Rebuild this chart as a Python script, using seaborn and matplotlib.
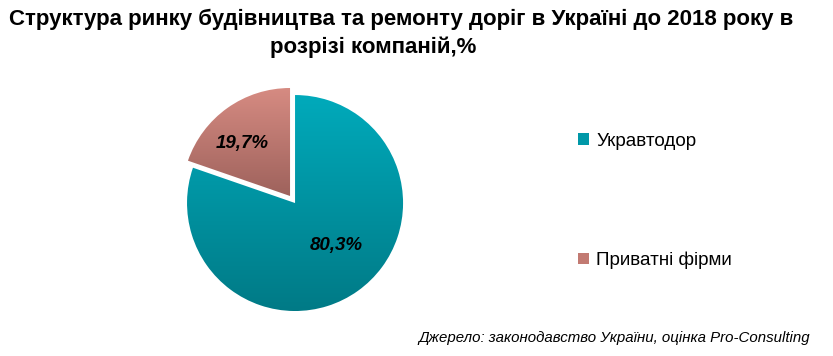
"""
Market structure pie: road construction and repair in Ukraine, by company
"""
import numpy as np
import matplotlib.pyplot as plt
import seaborn as sns
from matplotlib.colors import LinearSegmentedColormap
from matplotlib.patches import Patch

sns.set_theme(style="white")
plt.rcParams['font.family'] = ['Liberation Sans', 'DejaVu Sans']
plt.rcParams['text.color'] = 'black'

# Data
companies = ['Укравтодор', 'Приватні фірми']
shares = [80.3, 19.7]
title_lines = ['Структура ринку будівництва та ремонту доріг в Україні до 2018 року в',
               'розрізі компаній,%']
source = 'Джерело: законодавство України, оцінка Pro-Consulting'

# Gradient colours (top, bottom) for each slice
grad_colors = [('#00AABB', '#007A86'), ('#D68B82', '#9E625C')]
flat_colors = ['#0098A8', '#C27A72']

fig = plt.figure(figsize=(8.33, 3.56), dpi=100)
ax = fig.add_axes([0.1986, 0.0657, 0.3112, 0.728])

wedges, texts, autotexts = ax.pie(
    shares, colors=flat_colors, startangle=90, counterclock=False,
    explode=[0, 0.08], radius=1,
    autopct=lambda p: f'{p:.1f}%'.replace('.', ','),
    pctdistance=0.6,
    textprops=dict(fontsize=13.5, fontweight='bold', fontstyle='italic', color='black'),
    wedgeprops=dict(linewidth=0))
ax.set_aspect('equal')
ax.axis('off')

# Vertical gradient fill clipped to each wedge
for w, (top, bottom) in zip(wedges, grad_colors):
    cmap = LinearSegmentedColormap.from_list('g', [bottom, top])
    bb = w.get_path().get_extents(w.get_patch_transform())
    grad = np.linspace(0, 1, 256).reshape(-1, 1)
    im = ax.imshow(grad, cmap=cmap, origin='lower', aspect='auto',
                   extent=[bb.x0, bb.x1, bb.y0, bb.y1], zorder=w.get_zorder() + 0.5)
    im.set_clip_path(w)
    w.set_facecolor('none')

for t in autotexts:
    t.set_zorder(5)
# nudge labels to where the original chart puts them
x, y = autotexts[1].get_position()
autotexts[1].set_position((x * 1.25, y * 1.0))
x, y = autotexts[0].get_position()
autotexts[0].set_position((x * 1.1, y * 0.8))

ax.set_xlim(-1.2, 1.2)
ax.set_ylim(-1.2, 1.2)

handles = [Patch(facecolor=c, edgecolor='none') for c in flat_colors]
fig.legend(handles, companies, loc='upper left', bbox_to_anchor=(0.674, 0.675),
           frameon=False, fontsize=13.6, handlelength=0.55, handleheight=0.55,
           handletextpad=0.4, labelspacing=5.4)

# Title: two centred lines, second one sits a little left as in the source
fig.text(0.4814, 0.930, title_lines[0], ha='center', va='baseline', fontsize=16,
         fontweight='bold')
fig.text(0.448, 0.852, title_lines[1], ha='center', va='baseline', fontsize=16,
         fontweight='bold')
fig.text(0.972, 0.03, source, ha='right', va='bottom', fontsize=10.8,
         fontstyle='italic')

plt.savefig('out.png', dpi=100)
